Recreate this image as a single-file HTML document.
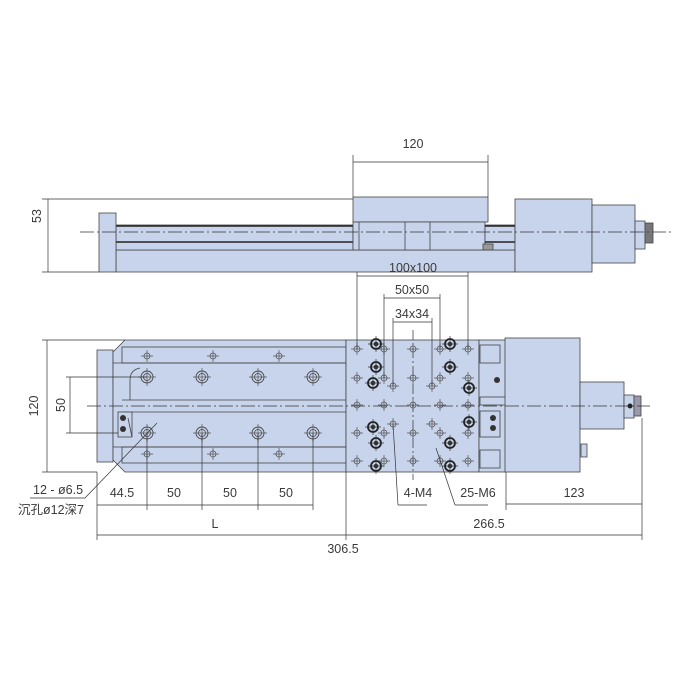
<!DOCTYPE html>
<html><head><meta charset="utf-8"><style>
html,body{margin:0;padding:0;background:#fff;width:700px;height:700px;overflow:hidden}
svg{display:block}
text{font-family:"Liberation Sans","Noto Sans CJK SC",sans-serif;font-size:12.5px;fill:#3a3a3a}
</style></head><body>
<svg width="700" height="700" viewBox="0 0 700 700" xmlns="http://www.w3.org/2000/svg">
<defs>
<g id="sh"><circle r="3" fill="none" stroke="#555" stroke-width="0.8"/><path d="M-6 0H6M0 -6V6" stroke="#555" stroke-width="0.7"/></g>
<g id="cb"><circle r="6" fill="none" stroke="#444" stroke-width="0.9"/><circle r="3.5" fill="none" stroke="#444" stroke-width="0.8"/><path d="M-9 0H9M0 -9V9" stroke="#555" stroke-width="0.7"/></g>
<g id="bk"><circle r="5" fill="#c8d4ec" stroke="#222" stroke-width="1.8"/><circle r="2.3" fill="#333"/><path d="M-8 0H8M0 -8V8" stroke="#333" stroke-width="0.7"/></g>
</defs>
<g stroke="#444" stroke-width="0.8" fill="#c8d4ec">
<!-- TOP VIEW -->
<rect x="116" y="250" width="399" height="22"/>
<rect x="116" y="225" width="237" height="25"/>
<line x1="116" y1="226" x2="353" y2="226" stroke="#222" stroke-width="1.5"/>
<line x1="116" y1="242" x2="353" y2="242" stroke="#222" stroke-width="1.5"/>
<rect x="99" y="213" width="17" height="59"/>
<rect x="353" y="197" width="135" height="25"/>
<rect x="353" y="222" width="132" height="28"/>
<line x1="359" y1="222" x2="359" y2="250"/>
<rect x="405" y="222" width="25" height="28"/>
<rect x="485" y="225" width="30" height="25"/>
<line x1="485" y1="226" x2="515" y2="226" stroke="#222" stroke-width="1.5"/>
<line x1="485" y1="242" x2="515" y2="242" stroke="#222" stroke-width="1.5"/>
<rect x="483" y="244" width="10" height="6" fill="#999"/>
<rect x="515" y="199" width="77" height="73"/>
<rect x="592" y="205" width="43" height="58"/>
<rect x="635" y="221" width="10" height="28"/>
<rect x="645" y="223" width="8" height="20" fill="#777"/>
</g>
<line x1="80" y1="232" x2="672" y2="232" stroke="#333" stroke-width="0.8" stroke-dasharray="14,3,2,3"/>
<g stroke="#333" stroke-width="0.7" fill="none">
<line x1="42" y1="199" x2="353" y2="199"/>
<line x1="42" y1="272" x2="99" y2="272"/>
<line x1="48" y1="199" x2="48" y2="272"/>
<line x1="353" y1="155" x2="353" y2="197"/>
<line x1="488" y1="155" x2="488" y2="197"/>
<line x1="353" y1="162" x2="488" y2="162"/>
</g>
<text x="413" y="148" text-anchor="middle">120</text>
<text transform="translate(41,216) rotate(-90)" text-anchor="middle">53</text>

<!-- BOTTOM VIEW -->
<g stroke="#444" stroke-width="0.8" fill="#c8d4ec">
<rect x="97" y="350" width="16" height="112"/>
<path d="M125 340H346V472H125L113 460V352Z"/>
<rect x="122" y="347" width="224" height="16"/>
<rect x="122" y="447" width="224" height="16"/>
<line x1="122" y1="400" x2="346" y2="400"/>
<line x1="122" y1="412" x2="346" y2="412"/>
<line x1="113" y1="363" x2="346" y2="363"/>
<line x1="113" y1="447" x2="346" y2="447"/>
<rect x="346" y="340" width="133" height="132"/>
<rect x="479" y="340" width="27" height="132"/>
<rect x="480" y="345" width="20" height="18"/>
<rect x="480" y="450" width="20" height="18"/>
<rect x="480" y="397" width="26" height="8"/>
<rect x="480" y="411" width="20" height="26"/>
<rect x="505" y="338" width="75" height="134"/>
<rect x="580" y="382" width="44" height="47"/>
<rect x="624" y="395" width="10" height="23"/>
<rect x="634" y="396" width="7" height="20" fill="#99a"/>
<rect x="581" y="444" width="6" height="13"/>
<rect x="118" y="412" width="14" height="25"/>
</g>
<circle cx="123" cy="418" r="3" fill="#333"/><circle cx="123" cy="429" r="3" fill="#333"/>
<circle cx="497" cy="380" r="3" fill="#333"/><circle cx="493" cy="418" r="3" fill="#333"/><circle cx="493" cy="428" r="3" fill="#333"/>
<circle cx="630" cy="406" r="2.5" fill="#222"/>
<path d="M130 400V380Q130 370 140 368" fill="none" stroke="#444" stroke-width="0.8"/>
<path d="M132 437L128 418" stroke="#444" stroke-width="0.8"/>
<line x1="87" y1="406" x2="650" y2="406" stroke="#333" stroke-width="0.8" stroke-dasharray="14,3,2,3"/>
<line x1="413" y1="330" x2="413" y2="480" stroke="#444" stroke-width="0.8" stroke-dasharray="10,3,2,3"/>
<!-- base holes -->
<use href="#sh" x="147" y="356"/><use href="#sh" x="213" y="356"/><use href="#sh" x="279" y="356"/>
<use href="#sh" x="147" y="454"/><use href="#sh" x="213" y="454"/><use href="#sh" x="279" y="454"/>
<use href="#cb" x="147" y="377"/><use href="#cb" x="202" y="377"/><use href="#cb" x="258" y="377"/><use href="#cb" x="313" y="377"/>
<use href="#cb" x="147" y="433"/><use href="#cb" x="202" y="433"/><use href="#cb" x="258" y="433"/><use href="#cb" x="313" y="433"/>
<!-- carriage holes -->
<g>
<use href="#sh" x="357" y="349"/><use href="#sh" x="384" y="349"/><use href="#sh" x="413" y="349"/><use href="#sh" x="440" y="349"/><use href="#sh" x="468" y="349"/>
<use href="#sh" x="357" y="378"/><use href="#sh" x="384" y="378"/><use href="#sh" x="413" y="378"/><use href="#sh" x="440" y="378"/><use href="#sh" x="468" y="378"/>
<use href="#sh" x="357" y="405"/><use href="#sh" x="384" y="405"/><use href="#sh" x="413" y="405"/><use href="#sh" x="440" y="405"/><use href="#sh" x="468" y="405"/>
<use href="#sh" x="357" y="433"/><use href="#sh" x="384" y="433"/><use href="#sh" x="413" y="433"/><use href="#sh" x="440" y="433"/><use href="#sh" x="468" y="433"/>
<use href="#sh" x="357" y="461"/><use href="#sh" x="384" y="461"/><use href="#sh" x="413" y="461"/><use href="#sh" x="440" y="461"/><use href="#sh" x="468" y="461"/>
<use href="#sh" x="393" y="386"/><use href="#sh" x="432" y="386"/><use href="#sh" x="393" y="424"/><use href="#sh" x="432" y="424"/>
<use href="#bk" x="376" y="344"/><use href="#bk" x="450" y="344"/><use href="#bk" x="376" y="367"/><use href="#bk" x="450" y="367"/>
<use href="#bk" x="373" y="383"/><use href="#bk" x="469" y="388"/><use href="#bk" x="373" y="427"/><use href="#bk" x="469" y="422"/>
<use href="#bk" x="376" y="443"/><use href="#bk" x="450" y="443"/><use href="#bk" x="376" y="466"/><use href="#bk" x="450" y="466"/>
</g>
<!-- dimensions -->
<g stroke="#333" stroke-width="0.7" fill="none">
<line x1="42" y1="340" x2="125" y2="340"/><line x1="42" y1="472" x2="97" y2="472"/><line x1="47" y1="340" x2="47" y2="472"/>
<line x1="66" y1="377" x2="147" y2="377"/><line x1="66" y1="433" x2="118" y2="433"/><line x1="70" y1="377" x2="70" y2="433"/>
<line x1="357" y1="272" x2="357" y2="349"/><line x1="468" y1="272" x2="468" y2="349"/><line x1="357" y1="276" x2="468" y2="276"/>
<line x1="384" y1="294" x2="384" y2="378"/><line x1="440" y1="294" x2="440" y2="349"/><line x1="384" y1="298" x2="440" y2="298"/>
<line x1="393" y1="318" x2="393" y2="386"/><line x1="432" y1="318" x2="432" y2="386"/><line x1="393" y1="322" x2="432" y2="322"/>
<line x1="97" y1="472" x2="97" y2="540"/><line x1="346" y1="472" x2="346" y2="540"/><line x1="642" y1="418" x2="642" y2="540"/><line x1="506" y1="472" x2="506" y2="510"/>
<line x1="147" y1="433" x2="147" y2="510"/><line x1="202" y1="433" x2="202" y2="510"/><line x1="258" y1="433" x2="258" y2="510"/><line x1="313" y1="433" x2="313" y2="510"/>
<line x1="97" y1="505" x2="313" y2="505"/>
<line x1="97" y1="535" x2="642" y2="535"/>
<line x1="506" y1="504" x2="642" y2="504"/>
<line x1="30" y1="498" x2="85" y2="498"/><line x1="85" y1="498" x2="157" y2="423"/>
<line x1="398" y1="505" x2="427" y2="505"/><line x1="398" y1="505" x2="393" y2="424"/>
<line x1="455" y1="505" x2="488" y2="505"/><line x1="455" y1="505" x2="436" y2="448"/>
</g>
<text transform="translate(38,406) rotate(-90)" text-anchor="middle">120</text>
<text transform="translate(65,405) rotate(-90)" text-anchor="middle">50</text>
<text x="413" y="272" text-anchor="middle">100x100</text>
<text x="412" y="294" text-anchor="middle">50x50</text>
<text x="412" y="318" text-anchor="middle">34x34</text>
<text x="122" y="497" text-anchor="middle">44.5</text>
<text x="174" y="497" text-anchor="middle">50</text>
<text x="230" y="497" text-anchor="middle">50</text>
<text x="286" y="497" text-anchor="middle">50</text>
<text x="215" y="528" text-anchor="middle">L</text>
<text x="343" y="553" text-anchor="middle">306.5</text>
<text x="489" y="528" text-anchor="middle">266.5</text>
<text x="574" y="497" text-anchor="middle">123</text>
<text x="418" y="497" text-anchor="middle">4-M4</text>
<text x="478" y="497" text-anchor="middle">25-M6</text>
<text x="33" y="494">12 - ø6.5</text>
<text x="18" y="514">沉孔ø12深7</text>
</svg>
</body></html>
